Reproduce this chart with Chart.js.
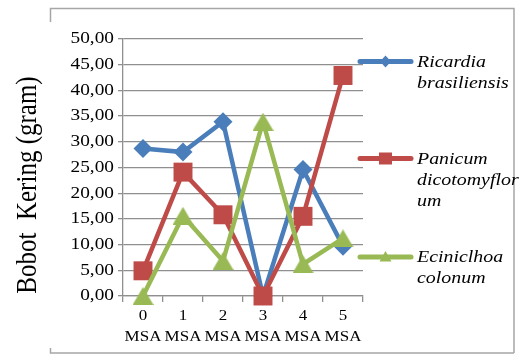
<!DOCTYPE html>
<html>
<head>
<meta charset="utf-8">
<script src="https://cdn.jsdelivr.net/npm/chart.js@4.4.1/dist/chart.umd.min.js"></script>
<style>
  html, body { margin: 0; padding: 0; background: #ffffff; }
  #wrap { width: 524px; height: 354px; position: relative; }
</style>
</head>
<body>
<div id="wrap"><canvas id="c" width="524" height="354"></canvas></div>
<script>
// Dry weight per species over weeks after application (MSA)
const categories = ['0 MSA', '1 MSA', '2 MSA', '3 MSA', '4 MSA', '5 MSA'];
const ricardia   = [28.7, 28.0, 33.9, 0.0, 24.6, 9.7];
const panicum    = [4.9, 24.1, 15.8, 0.0, 15.5, 42.9];
const eciniclhoa = [0.0, 15.6, 6.8, 33.9, 6.2, 11.2];
const seriesNames = ['Ricardia brasiliensis', 'Panicum dicotomyflorum', 'Eciniclhoa colonum'];
const legendLines = [['Ricardia', 'brasiliensis'], ['Panicum', 'dicotomyflor', 'um'], ['Eciniclhoa', 'colonum']];
const yTicks = [0, 5, 10, 15, 20, 25, 30, 35, 40, 45, 50];
const yTitle = 'Bobot  Kering (gram)';

const BLUE = '#4A7EBB', RED = '#BE4B48', GREEN = '#98B954';
const GRID = '#8f8f8f';
const SERIF = '"Liberation Serif", "Times New Roman", serif';
const TEXT_STRETCH = 1.17;   // wide-set lettering

const canvas = document.getElementById('c');
const context = canvas.getContext('2d');
const plainFillText = context.fillText.bind(context);
// All horizontal text is drawn slightly widened around its anchor point
context.fillText = function (text, x, y, maxWidth) {
  this.save();
  this.translate(x, y);
  this.scale(TEXT_STRETCH, 1);
  plainFillText(text, 0, 0, maxWidth);
  this.restore();
};

// Triangle marker centred on its bounding box
function triangleImage(w, h, color) {
  const cv = document.createElement('canvas');
  cv.width = w; cv.height = h;
  const g = cv.getContext('2d');
  g.fillStyle = color;
  g.beginPath();
  g.moveTo(w / 2, 0);
  g.lineTo(w, h);
  g.lineTo(0, h);
  g.closePath();
  g.fill();
  return cv;
}

const tri = triangleImage(21, 18, GREEN);

// Frame, rotated axis title and the wrapped legend on the right
const decorations = {
  id: 'decorations',
  afterDraw(chart) {
    const ctx = chart.ctx;
    ctx.save();
    // outer frame
    ctx.strokeStyle = '#a6a6a6';
    ctx.lineWidth = 1.5;
    ctx.beginPath();
    ctx.moveTo(50.5, 22); ctx.lineTo(50.5, 8.5); ctx.lineTo(514, 8.5); ctx.lineTo(514, 353);
    ctx.moveTo(50.5, 348); ctx.lineTo(50.5, 353); ctx.lineTo(514, 353);
    ctx.stroke();

    // axis title (widened across the page, i.e. along the glyph height)
    ctx.save();
    ctx.translate(28.5, 185);
    ctx.rotate(-Math.PI / 2);
    ctx.scale(1, TEXT_STRETCH);
    ctx.font = '25px ' + SERIF;
    ctx.fillStyle = '#000';
    ctx.textAlign = 'center';
    ctx.textBaseline = 'middle';
    plainFillText(yTitle, 0, 0);
    ctx.restore();

    // legend
    const rowY = [61.5, 158.5, 257];
    chart.data.datasets.forEach((ds, i) => {
      const y = rowY[i];
      ctx.strokeStyle = ds.borderColor;
      ctx.lineWidth = 5;
      ctx.lineCap = 'round';
      ctx.beginPath();
      ctx.moveTo(360, y); ctx.lineTo(411, y);
      ctx.stroke();
      ctx.fillStyle = ds.borderColor;
      const cx = 385.5;
      ctx.beginPath();
      if (i === 0) {
        ctx.moveTo(cx, y - 6); ctx.lineTo(cx + 5.5, y); ctx.lineTo(cx, y + 6); ctx.lineTo(cx - 5.5, y);
      } else if (i === 1) {
        ctx.rect(cx - 6.5, y - 6, 13, 12);
      } else {
        ctx.moveTo(cx, y - 6); ctx.lineTo(cx + 6, y + 4.5); ctx.lineTo(cx - 6, y + 4.5);
      }
      ctx.closePath();
      ctx.fill();

      ctx.font = 'italic 17px ' + SERIF;
      ctx.fillStyle = '#000';
      ctx.textAlign = 'left';
      ctx.textBaseline = 'middle';
      legendLines[i].forEach((t, k) => ctx.fillText(t, 417, y + 1 + k * 21));
    });
    ctx.restore();
  }
};

new Chart(canvas, {
  type: 'line',
  data: {
    labels: categories,
    datasets: [
      { label: seriesNames[0], data: ricardia, borderColor: BLUE, backgroundColor: BLUE,
        borderWidth: 4.5, pointStyle: 'rectRot', pointRadius: 9.5, pointHoverRadius: 9.5,
        pointBorderWidth: 0, clip: false, order: 3, tension: 0 },
      { label: seriesNames[1], data: panicum, borderColor: RED, backgroundColor: RED,
        borderWidth: 4.5, pointStyle: 'rect', pointRadius: 13.4, pointHoverRadius: 13.4,
        pointBorderWidth: 0, clip: false, order: 2, tension: 0 },
      { label: seriesNames[2], data: eciniclhoa, borderColor: GREEN, backgroundColor: GREEN,
        borderWidth: 4.5, pointStyle: tri, pointRadius: 10, pointHoverRadius: 10,
        pointBorderWidth: 0, clip: false, order: 1, tension: 0 }
    ]
  },
  options: {
    responsive: false,
    animation: false,
    devicePixelRatio: 1,
    events: [],
    layout: { autoPadding: false, padding: { left: 0, top: 39, right: 161, bottom: 0 } },
    plugins: { legend: { display: false }, tooltip: { enabled: false }, title: { display: false } },
    scales: {
      x: {
        type: 'category',
        offset: true,
        grid: { offset: true, drawOnChartArea: false, drawTicks: true, tickLength: 6, color: GRID, lineWidth: 1.3 },
        border: { display: true, color: GRID, width: 1.3 },
        ticks: {
          color: '#000',
          font: { family: SERIF, size: 14.5, lineHeight: 1.45 },
          padding: 4,
          maxRotation: 0,
          autoSkip: false,
          callback: (v, i) => categories[i].split(' ')
        },
        afterFit: s => { s.height = 58; }
      },
      y: {
        min: 0, max: 50,
        afterBuildTicks: s => { s.ticks = yTicks.map(v => ({ value: v })); },
        grid: { color: GRID, lineWidth: 1.3, tickLength: 5 },
        border: { display: true, color: GRID, width: 1.3 },
        ticks: {
          color: '#000',
          font: { family: SERIF, size: 16.5 },
          padding: 4,
          callback: v => v.toFixed(2).replace('.', ',')
        },
        afterFit: s => { s.width = 123; }
      }
    }
  },
  plugins: [decorations]
});
</script>
</body>
</html>
